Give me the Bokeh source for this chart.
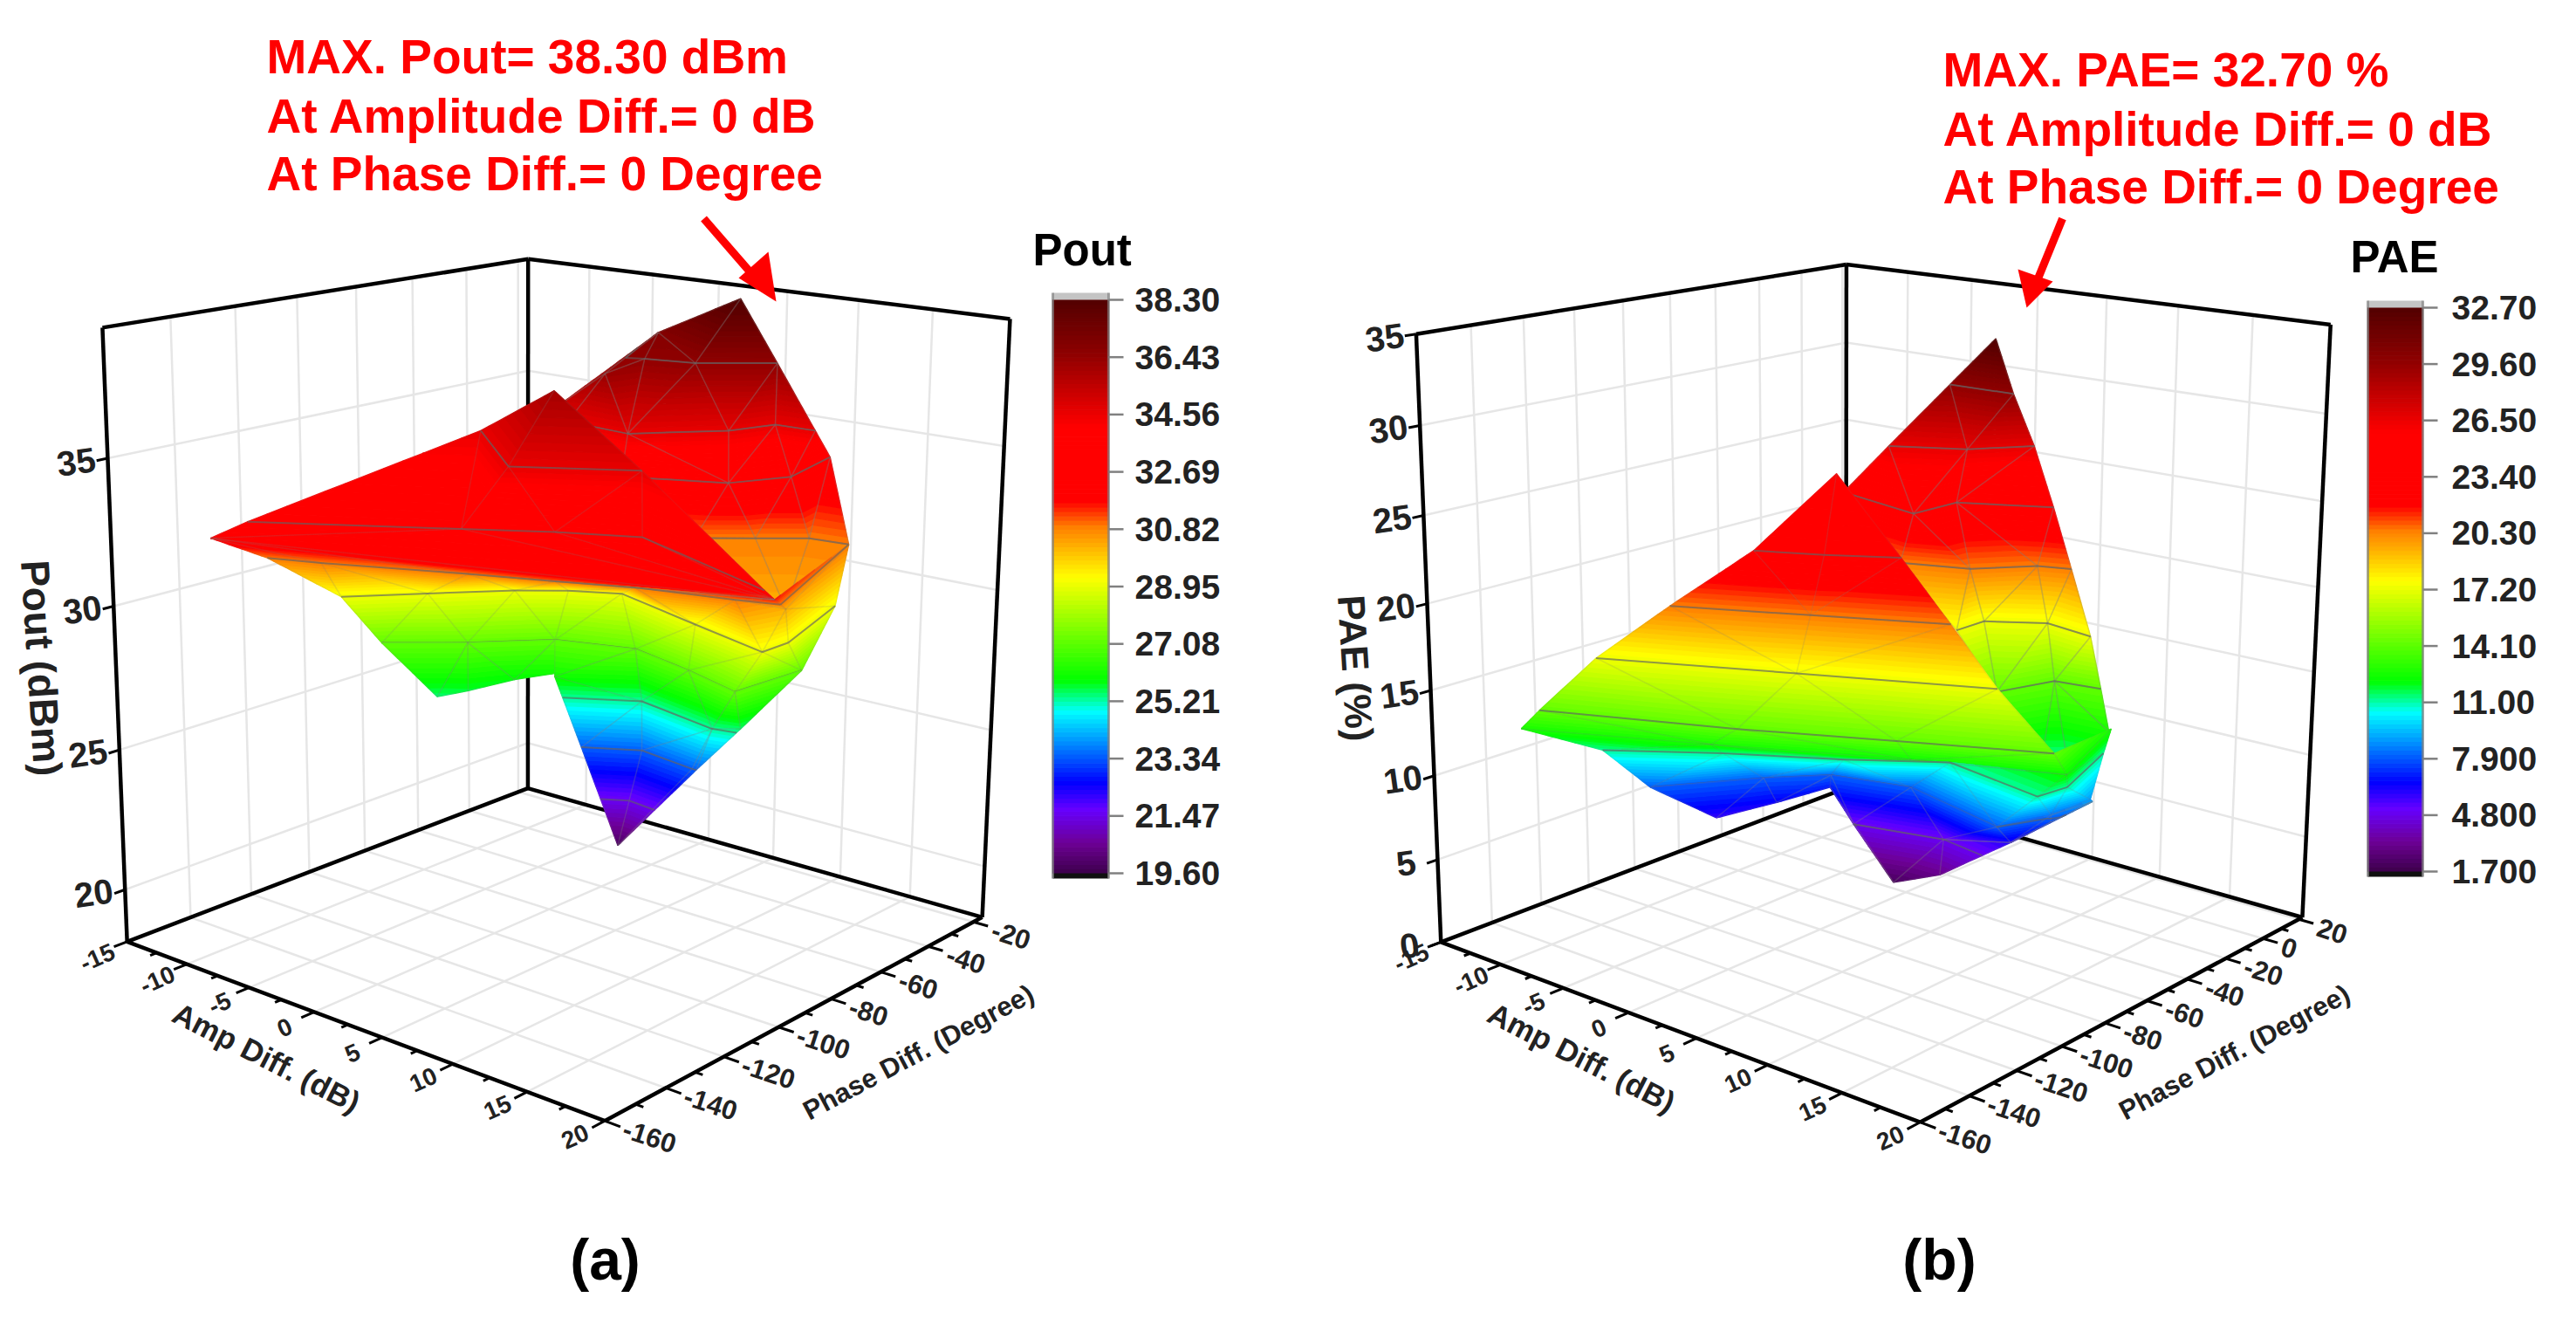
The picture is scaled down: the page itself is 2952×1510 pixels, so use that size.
import numpy as np
from bokeh.plotting import figure
from bokeh.models import Range1d
from bokeh.core.properties import value
from bokeh.embed import file_html
from bokeh.resources import INLINE

FONT = value("Liberation Sans")
AMP_TICKS = [-15, -10, -5, 0, 5, 10, 15, 20]
PH_TICKS_A = [-160, -140, -120, -100, -80, -60, -40, -20]
PH_TICKS_B = [-160, -140, -120, -100, -80, -60, -40, -20, 0, 20]
Z_TICKS_A = [20, 25, 30, 35]
Z_TICKS_B = [0, 5, 10, 15, 20, 25, 30, 35]
BAR_A = ["38.30","36.43","34.56","32.69","30.82","28.95","27.08","25.21","23.34","21.47","19.60"]
BAR_B = ["32.70","29.60","26.50","23.40","20.30","17.20","14.10","11.00","7.900","4.800","1.700"]
CMAP_T = [0, .05, .108, .155, .279, .333, .512, .60, .645, .775, .90, 1]
CMAP_C = [(64,0,80),(110,0,150),(102,0,255),(0,0,255),(0,255,255),(0,255,0),(255,255,0),(255,128,0),(255,0,0),(255,0,0),(144,0,0),(80,0,0)]

# Panel (a) surface, rows of amp (dB), phase (deg), Pout (dBm)
A_BACK_AMP=[[-6.9,-1.7],[-6.1,-3.9,-3.9,-0.7,3.0],[-5.0,-0.1,3.8,4.8,7.6],[-1.9,3.9,5.7,4.3],[3.0,5.7,8.1,10.7],[14.0]]
A_BACK_PH=[[-3.4,2.8],[-47.5,-40.3,-24.7,-21.2,-7.8],[-49.0,-50.8,-32.0,-18.5,-18.1],[-43.9,-32.2,-16.5,8.6],[-40.5,-30.9,-22.4,-21.2],[-66.1]]
A_BACK_VAL=[[36.8,38.3],[35.0,36.2,36.43,36.43,36.43],[34.56]*5,[32.69]*4,[30.82]*4,[30.2]]
A_FRONT_AMP=[[-3.8],[-7.1,0.5,6.7],[-10.3,-0.3,4.0,8.3,19.8],[-11.5,17.0],[-12.5,-9.4,-1.5,3.2,7.3,13.0,14.0,10.7],[-11.5,-8.2,-4.8,-2.4,0.4,7.7,13.8,13.8,11.4],[-10.5,-6.7,-3.2,1.6,6.6,11.1,11.5]]
A_FRONT_PH=[[-60.1],[-71.3,-97.1,-80.7],[-136.2,-109.5,-97.9,-88.7,-108.0],[-143.1,-88.0],[-121.6,-116.7,-101.8,-93.8,-86.1,-79.8,-66.1,-21.2],[-101.5,-85.7,-69.8,-61.4,-55.1,-65.3,-73.6,-63.6,-30.5],[-92.0,-78.2,-62.4,-55.8,-61.7,-68.4,-44.3]]
A_FRONT_VAL=[[36.0],[34.56]*3,[32.69]*5,[32.2,31.5],[30.82,30.82,30.82,30.82,30.82,30.82,30.2,30.82],[28.95]*9,[27.08]*7]
A_LOBE_AMP=[[-6.9,-5.6,-4.3,-2.6]]
A_LOBE_PH=[[-88.4,-83.2,-72.3,-65.4]]
A_LOBE_VAL=[[25.4,25.6,25.8,26.0]]
A_TAIL_AMP=[[-2.2,2.1,8.4,10.2],[-1.1,2.0,6.3,6.6],[1.1]]
A_TAIL_PH=[[-67.4,-55.7,-61.9,-60.8],[-62.6,-54.9,-58.0,-58.0],[-59.3]]
A_TAIL_VAL=[[26.0,25.21,25.21,25.4],[23.34]*4,[19.8]]

# Panel (b) surface, rows of amp (dB), phase (deg), PAE (%)
B_BACK_AMP=[[0.8],[-2.4,2.2],[-3.2,0.8,3.2],[-6.1,0.5,0.6,5.6],[-0.5,3.4,5.9,7.8],[4.1,4.1,7.1,10.6],[7.0,8.2,11.1],[10.3,11.7,13.2],[12.3]]
B_BACK_PH=[[-4.2],[-5.3,-4.5],[-29.4,-17.4,-0.5],[-32.8,-40.8,-21.0,-7.0],[-40.5,-32.5,-16.6,-13.0],[-43.2,-30.1,-19.4,-22.8],[-42.9,-23.1,-20.6],[-42.6,-41.0,-31.5],[-44.7]]
B_BACK_VAL=[[32.7],[29.6]*2,[26.5]*3,[23.4]*4,[20.3]*4,[17.2]*4,[14.1]*3,[11.5,11.0,12.5],[10.4]]
B_FRONT_AMP=[[-5.6],[-0.5,3.0,6.5],[-3.9,3.1,9.9],[-7.3,2.9,12.8],[-9.9,0.6,8.4,16.0],[-11.9,-2.0,7.6,15.3,13.0],[-9.0,-3.5,2.3,7.1,14.2,14.5,12.6],[-8.8,-5.0,-2.4,2.5,10.3,11.9,13.0]]
B_FRONT_PH=[[-39.1],[-104.9,-95.7,-84.1],[-120.6,-102.1,-83.9],[-132.8,-106.9,-82.0],[-142.6,-118.4,-97.6,-77.9],[-140.4,-115.1,-86.1,-66.8,-28.9],[-122.6,-101.8,-83.2,-65.2,-72.5,-60.7,-29.5],[-104.4,-76.1,-60.8,-53.8,-64.4,-49.6,-38.4]]
B_FRONT_VAL=[[24.8],[23.4]*3,[20.3]*3,[17.2]*3,[14.1]*4,[12.5,12.5,12.3,12.2,12.5],[11.0]*7,[7.9,7.9,7.9,7.9,7.9,8.2,8.8]]
B_LOBE_AMP=[[-6.4,-4.6,-3.1]]
B_LOBE_PH=[[-89.2,-72.6,-57.0]]
B_LOBE_VAL=[[5.8,6.3,6.8]]
B_TAIL_AMP=[[-3.1,-1.5,4.1,9.3,11.6,13.3],[1.7,4.6,9.3,13.3]]
B_TAIL_PH=[[-57.0,-55.7,-48.3,-50.8,-47.7,-39.5],[-56.6,-53.2,-50.8,-39.5]]
B_TAIL_VAL=[[6.8,4.8,4.8,6.0,7.6,8.8],[2.0,3.0,6.0,8.8]]

def rows(am,ph,va):
    return [list(zip(a,b,c)) for a,b,c in zip(am,ph,va)]

def cmap(t):
    t = min(max(t,0),1)
    c = [int(round(np.interp(t, CMAP_T, [k[i] for k in CMAP_C]))) for i in range(3)]
    return "#%02x%02x%02x" % tuple(c)

class Box:
    """Perspective scale from (amp, phase, value) to page pixels, fitted on the box corners."""
    def __init__(self, corners, prange, zrange):
        self.p0,self.p1=prange; self.z0,self.z1=zrange
        m=[]
        for (u,v,w),(X,Y) in corners.items():
            P=[u,v,w,1]
            m.append(P+[0,0,0,0]+[-X*k for k in P])
            m.append([0,0,0,0]+P+[-Y*k for k in P])
        _,_,vt=np.linalg.svd(np.array(m,float))
        self.M=vt[-1].reshape(3,4)
    def xy(self,a,p,z):
        u,v,w=(a+15)/35,(p-self.p0)/(self.p1-self.p0),(z-self.z0)/(self.z1-self.z0)
        h=self.M@np.array([u,v,w,1.0])
        return float(h[0]/h[2]),float(h[1]/h[2])

BOX_A=Box({(0,0,0):(145,1078),(0,0,1):(117,375),(1,0,0):(692.6,1284),(1,1,0):(1125,1050),(1,1,1):(1157,365),(0,1,0):(604.6,903),(0,1,1):(604.6,296)},(-160,-16),(18.1,39.3))
BOX_B=Box({(0,0,0):(1651,1080),(0,0,1):(1622,382),(1,0,0):(2200,1284),(1,1,0):(2638,1052),(1,1,1):(2670,371),(0,1,0):(2114.5,901),(0,1,1):(2116,303)},(-160,22),(0,35))

p=figure(width=2936,height=1494,x_range=Range1d(0,2936),y_range=Range1d(1494,0),output_backend="svg",toolbar_location=None,min_border=0)
p.axis.visible=False; p.grid.visible=False; p.outline_line_color=None

def strip(A,B):
    i=j=0; tris=[]
    d=lambda s,t:(s[0]-t[0])**2+(s[1]-t[1])**2
    while i<len(A)-1 or j<len(B)-1:
        if i==len(A)-1: adv=False
        elif j==len(B)-1: adv=True
        else: adv=d(A[i+1],B[j])<d(A[i],B[j+1])
        if adv:
            tris.append((A[i],A[i+1],B[j])); i+=1
        else:
            tris.append((A[i],B[j+1],B[j])); j+=1
    return tris

def clip(poly,lev,above):
    out=[]
    n=len(poly)
    for k in range(n):
        s=poly[k]; t=poly[(k+1)%n]
        ins=(s[2]>=lev) if above else (s[2]<=lev)
        int_=(t[2]>=lev) if above else (t[2]<=lev)
        if ins: out.append(s)
        if ins!=int_:
            f=(lev-s[2])/(t[2]-s[2])
            out.append((s[0]+f*(t[0]-s[0]),s[1]+f*(t[1]-s[1]),lev))
    return out

def draw_sheet(sheet,box,vmin,vmax,levels,nb=120,mesh_alpha=0.16):
    scr=[[box.xy(a,ph,z)+(z,) for a,ph,z in r] for r in sheet]
    tris=[]
    for A,B in zip(scr[:-1],scr[1:]):
        tris+=strip(A,B)
    xs=[];ys=[];cs=[]
    dv=(vmax-vmin)/nb
    for tri in tris:
        zs=[v[2] for v in tri]
        b0=int(np.floor((min(zs)-vmin)/dv)); b1=int(np.floor((max(zs)-vmin)/dv))
        for b in range(b0,b1+1):
            lo=vmin+b*dv; hi=lo+dv
            poly=clip(list(tri),lo,True)
            poly=clip(poly,hi,False) if poly else []
            if len(poly)>=3:
                xs.append([v[0] for v in poly]); ys.append([v[1] for v in poly]); cs.append(cmap((lo+dv/2-vmin)/(vmax-vmin)))
    p.patches(xs,ys,fill_color=cs,line_color=cs,line_width=1.2)
    mx=[];my=[]
    for tri in tris:
        for k in range(3):
            s,t=tri[k],tri[(k+1)%3]
            mx.append([s[0],t[0]]); my.append([s[1],t[1]])
    p.multi_line(mx,my,line_color="#808080",line_alpha=mesh_alpha,line_width=1.5)
    cx=[];cy=[]
    for L in levels:
        L=L+1e-6
        for tri in tris:
            pts=[]
            for k in range(3):
                s,t=tri[k],tri[(k+1)%3]
                if (s[2]-L)*(t[2]-L)<0:
                    f=(L-s[2])/(t[2]-s[2])
                    pts.append((s[0]+f*(t[0]-s[0]),s[1]+f*(t[1]-s[1])))
            if len(pts)==2:
                cx.append([pts[0][0],pts[1][0]]); cy.append([pts[0][1],pts[1][1]])
    if cx:
        p.multi_line(cx,cy,line_color="#606060",line_alpha=0.6,line_width=2)

def seg(box,pairs,**kw):
    xs=[];ys=[]
    for s,t in pairs:
        a=box.xy(*s); b=box.xy(*t)
        xs.append([a[0],b[0]]); ys.append([a[1],b[1]])
    p.multi_line(xs,ys,**kw)

def frame(box,pticks,zticks):
    a0,a1=-15,20; p0,p1=box.p0,box.p1; z0,z1=box.z0,box.z1
    g=[]
    for a in AMP_TICKS[1:-1]:
        g.append(((a,p1,z0),(a,p1,z1))); g.append(((a,p0,z0),(a,p1,z0)))
    for ph in pticks[1:]:
        if ph<p1:
            g.append(((a0,ph,z0),(a0,ph,z1))); g.append(((a0,ph,z0),(a1,ph,z0)))
    for z in zticks:
        if z>z0 and z<z1:
            g.append(((a0,p0,z),(a0,p1,z))); g.append(((a0,p1,z),(a1,p1,z)))
    seg(box,g,line_color="#e6e6e6",line_width=2.5)
    e=[((a0,p0,z0),(a0,p0,z1)),((a0,p1,z0),(a0,p1,z1)),((a1,p1,z0),(a1,p1,z1)),
       ((a0,p0,z1),(a0,p1,z1)),((a0,p1,z1),(a1,p1,z1)),
       ((a0,p0,z0),(a0,p1,z0)),((a0,p1,z0),(a1,p1,z0)),
       ((a0,p0,z0),(a1,p0,z0)),((a1,p0,z0),(a1,p1,z0))]
    seg(box,e,line_color="black",line_width=4.5)
    dp=(p1-p0)*0.028; da=35*0.028
    t=[]
    for a in AMP_TICKS: t.append(((a,p0,z0),(a,p0-dp,z0)))
    for a in np.array(AMP_TICKS[:-1])+2.5: t.append(((float(a),p0,z0),(float(a),p0-dp*.5,z0)))
    for ph in pticks: t.append(((a1,ph,z0),(a1+da,ph,z0)))
    for ph in np.array(pticks[:-1])+10: t.append(((a1,float(ph),z0),(a1+da*.5,float(ph),z0)))
    for z in zticks: t.append(((a0,p0,z),(a0,p0-dp*.8,z)))
    seg(box,t,line_color="black",line_width=3)
    lx=[];ly=[];ls=[]
    for a in AMP_TICKS:
        x,y=box.xy(a,p0,z0); lx.append(x-34); ly.append(y+18); ls.append(str(a))
    p.text(lx,ly,text=ls,text_font=FONT,text_font_style="bold",text_font_size="28px",text_align="center",text_baseline="middle",angle=24,angle_units="deg",text_color="#222222")
    lx=[];ly=[];ls=[]
    for ph in pticks:
        x,y=box.xy(a1,ph,z0); lx.append(x+22); ly.append(y+8); ls.append(str(ph))
    p.text(lx,ly,text=ls,text_font=FONT,text_font_style="bold",text_font_size="31px",text_align="left",text_baseline="middle",angle=-18,angle_units="deg",text_color="#222222")
    lx=[];ly=[];ls=[]
    for z in zticks:
        x,y=box.xy(a0,p0,z); lx.append(x-36); ly.append(y+4); ls.append(str(z))
    p.text(lx,ly,text=ls,text_font=FONT,text_font_style="bold",text_font_size="40px",text_align="center",text_baseline="middle",angle=8,angle_units="deg",text_color="#222222")

def text(x,y,s,size,color="black",align="left",angle=0):
    p.text([x],[y],text=[s],text_font=FONT,text_font_style="bold",text_font_size=f"{size}px",text_color=color,text_align=align,text_baseline="middle",angle=angle,angle_units="deg")

def colorbar(x0,x1,ytop,ybot,vmin,vmax,labels,title,tx,ty,lx):
    n=130
    v=np.linspace(vmin,vmax,n+1)
    sc=lambda q:ybot+(q-vmin)/(vmax-vmin)*(ytop-ybot)
    c=[cmap((v[i]-vmin)/(vmax-vmin)) for i in range(n)]
    p.quad(left=x0,right=x1,top=[sc(v[i+1]) for i in range(n)],bottom=[sc(v[i]) for i in range(n)],fill_color=c,line_color=c,line_width=1)
    p.quad(left=x0,right=x1,top=[ytop-8],bottom=[ytop],fill_color="#c4c4c4",line_color=None)
    p.quad(left=x0,right=x1,top=[ybot],bottom=[ybot+6],fill_color="#101010",line_color=None)
    p.multi_line([[x0,x0],[x1,x1]],[[ytop-8,ybot+6],[ytop-8,ybot+6]],line_color="#808080",line_width=3,line_alpha=.7)
    lv=np.linspace(vmax,vmin,len(labels))
    for q,s in zip(lv,labels):
        y=sc(q)
        p.line([x1,x1+17],[y,y],line_color="#808080",line_width=2.5)
        text(lx,y,s,39,color="#222222")
    text(tx,ty,title,51)

frame(BOX_A,PH_TICKS_A,Z_TICKS_A)
frame(BOX_B,PH_TICKS_B,Z_TICKS_B)

levA=[float(s) for s in BAR_A]; levB=[float(s) for s in BAR_B]
a_back=rows(A_BACK_AMP,A_BACK_PH,A_BACK_VAL)
a_front=rows(A_FRONT_AMP,A_FRONT_PH,A_FRONT_VAL)
a_lobe=[a_front[-1][:3]]+rows(A_LOBE_AMP,A_LOBE_PH,A_LOBE_VAL)
a_tail=[a_front[-1][2:]]+rows(A_TAIL_AMP,A_TAIL_PH,A_TAIL_VAL)
b_back=rows(B_BACK_AMP,B_BACK_PH,B_BACK_VAL)
b_front=rows(B_FRONT_AMP,B_FRONT_PH,B_FRONT_VAL)
b_lobe=[b_front[-1][:3]]+rows(B_LOBE_AMP,B_LOBE_PH,B_LOBE_VAL)
b_tail=[b_front[-1][2:]]+rows(B_TAIL_AMP,B_TAIL_PH,B_TAIL_VAL)

for sheet,ma in [(a_back,.22),(a_front,.1),(a_lobe,.16),(a_tail,.16)]:
    draw_sheet(sheet,BOX_A,19.6,38.3,levA,mesh_alpha=ma)
for sheet,ma in [(b_back,.22),(b_front,.1),(b_lobe,.16),(b_tail,.16)]:
    draw_sheet(sheet,BOX_B,1.7,32.7,levB,mesh_alpha=ma)

colorbar(1206,1270,343,1000,19.6,38.3,BAR_A,"Pout",1183,286,1300)
colorbar(2713,2776,352,998,1.7,32.7,BAR_B,"PAE",2693,294,2809)

for x,ys,lines in [(305,[64,132,198],["MAX. Pout= 38.30 dBm","At Amplitude Diff.= 0 dB","At Phase Diff.= 0 Degree"]),
                   (2226,[79,147,213],["MAX. PAE= 32.70 %","At Amplitude Diff.= 0 dB","At Phase Diff.= 0 Degree"])]:
    for y,s in zip(ys,lines): text(x,y,s,55,color="#ff0000")

p.line([806,872],[250,326],line_color="#ff0000",line_width=9)
p.patches([[889,846,880]],[[345,318,288]],fill_color="#ff0000",line_color=None)
p.line([2363,2332],[250,326],line_color="#ff0000",line_width=9)
p.patches([[2322,2312,2352]],[[352,308,322]],fill_color="#ff0000",line_color=None)

text(305,1211,"Amp Diff. (dB)",35,color="#222222",align="center",angle=-27)
text(1052,1205,"Phase Diff. (Degree)",31,color="#222222",align="center",angle=28)
text(47,765,"Pout (dBm)",46,color="#222222",align="center",angle=-86.5)
text(1812,1211,"Amp Diff. (dB)",35,color="#222222",align="center",angle=-27)
text(2560,1205,"Phase Diff. (Degree)",31,color="#222222",align="center",angle=28)
text(1553,765,"PAE (%)",44,color="#222222",align="center",angle=-86.5)
text(693,1442,"(a)",66,align="center")
text(2222,1442,"(b)",66,align="center")

open("out.html","w").write(file_html(p,INLINE))
